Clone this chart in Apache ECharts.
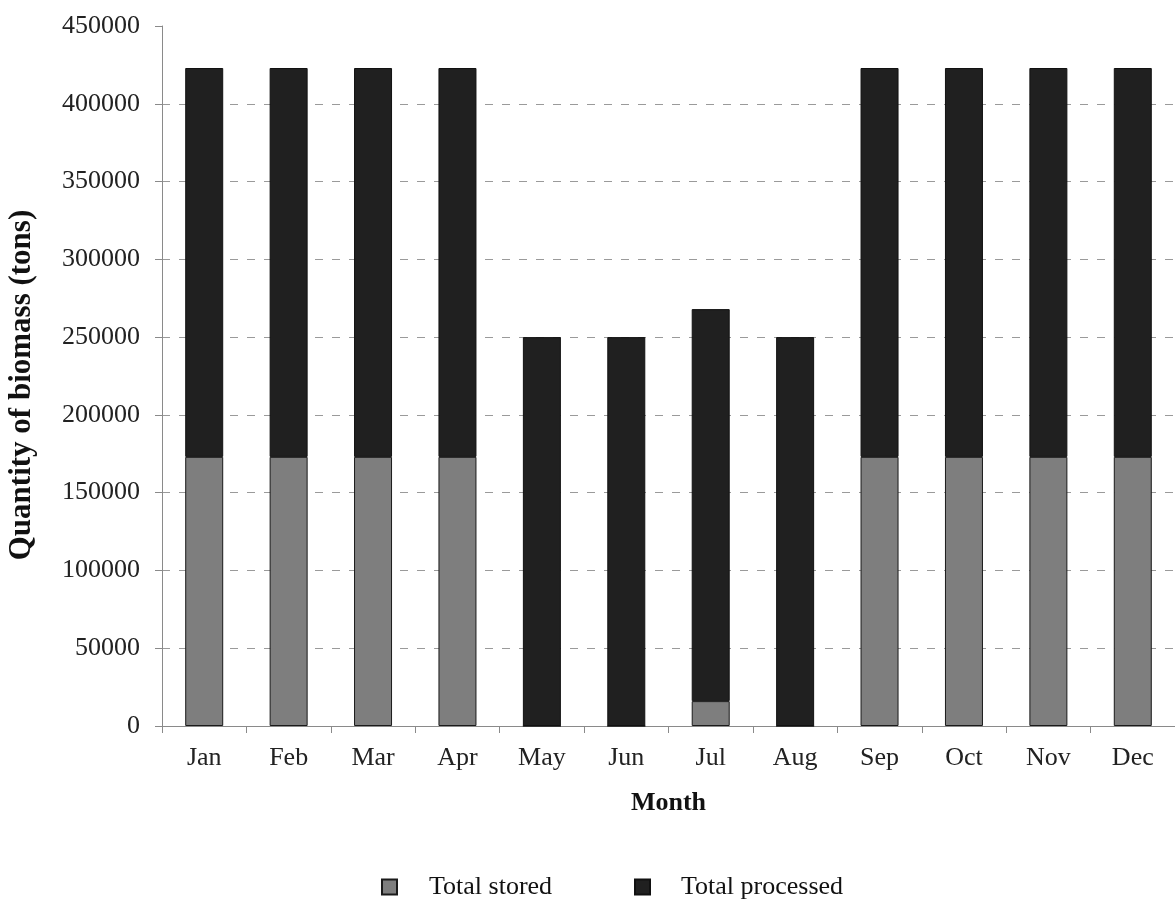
<!DOCTYPE html>
<html>
<head>
<meta charset="utf-8">
<script src="https://cdn.jsdelivr.net/npm/echarts@6/dist/echarts.min.js"></script>
<style>
  html, body { margin: 0; padding: 0; background: #fff; }
  #chart { width: 1175px; height: 909px; }
</style>
</head>
<body>
<div id="chart"></div>
<script>
// Monthly biomass quantities (tons)
const months = ['Jan', 'Feb', 'Mar', 'Apr', 'May', 'Jun', 'Jul', 'Aug', 'Sep', 'Oct', 'Nov', 'Dec'];
const totalStored = [173000, 173000, 173000, 173000, 0, 0, 16000, 0, 173000, 173000, 173000, 173000];
const totalProcessed = [250000, 250000, 250000, 250000, 250000, 250000, 252000, 250000, 250000, 250000, 250000, 250000];
const yTicks = [0, 50000, 100000, 150000, 200000, 250000, 300000, 350000, 400000, 450000];

const serif = '"Liberation Serif", "DejaVu Serif", serif';
const gridColor = '#9a9a9a';
// dashed gridlines on every tick except the top of the range
const gridColors = yTicks.map(function (t, i) {
  return i === yTicks.length - 1 ? 'rgba(0,0,0,0)' : gridColor;
});

const chart = echarts.init(document.getElementById('chart'));

chart.setOption({
  backgroundColor: '#ffffff',
  animation: false,
  textStyle: { fontFamily: serif },
  grid: { left: 162, top: 26, width: 1015, height: 700 },
  legend: [
    {
      data: ['Total stored'],
      left: 376, top: 869,
      itemWidth: 15, itemHeight: 15,
      icon: 'rect',
      textStyle: { fontFamily: serif, fontSize: 26, color: '#111', padding: [0, 0, 0, 27] }
    },
    {
      data: ['Total processed'],
      left: 629, top: 869,
      itemWidth: 15, itemHeight: 15,
      icon: 'rect',
      textStyle: { fontFamily: serif, fontSize: 26, color: '#111', padding: [0, 0, 0, 26] }
    }
  ],
  xAxis: {
    type: 'category',
    data: months,
    name: 'Month',
    nameLocation: 'middle',
    nameGap: 64,
    nameTextStyle: { fontFamily: serif, fontSize: 26, fontWeight: 'bold', color: '#111' },
    axisLine: { lineStyle: { color: '#8a8a8a', width: 1 } },
    axisTick: { show: true, alignWithLabel: false, length: 7, lineStyle: { color: '#8a8a8a' } },
    axisLabel: { fontFamily: serif, fontSize: 26, color: '#222', margin: 19 }
  },
  yAxis: {
    type: 'value',
    min: yTicks[0],
    max: yTicks[yTicks.length - 1],
    interval: yTicks[1] - yTicks[0],
    axisLine: { show: true, lineStyle: { color: '#8a8a8a', width: 1 } },
    axisTick: { show: true, length: 7, lineStyle: { color: '#8a8a8a' } },
    axisLabel: {
      fontFamily: serif, fontSize: 26, color: '#222', margin: 22,
      formatter: function (v) { return String(v); }
    },
    splitLine: {
      show: true,
      lineStyle: { color: gridColors, type: [8, 9], width: 1 }
    }
  },
  graphic: [
    {
      type: 'text',
      x: 22, y: 385,
      rotation: Math.PI / 2,
      style: {
        text: 'Quantity of biomass (tons)',
        font: 'bold 31px ' + serif,
        fill: '#111',
        align: 'center',
        verticalAlign: 'middle'
      }
    }
  ],
  series: [
    {
      name: 'Total stored',
      type: 'bar',
      stack: 'total',
      barWidth: 38,
      data: totalStored,
      itemStyle: { color: '#7e7e7e', borderColor: '#1a1a1a', borderWidth: 1 }
    },
    {
      name: 'Total processed',
      type: 'bar',
      stack: 'total',
      barWidth: 38,
      data: totalProcessed,
      itemStyle: { color: '#202020', borderColor: '#111', borderWidth: 1 }
    }
  ]
});
</script>
</body>
</html>
